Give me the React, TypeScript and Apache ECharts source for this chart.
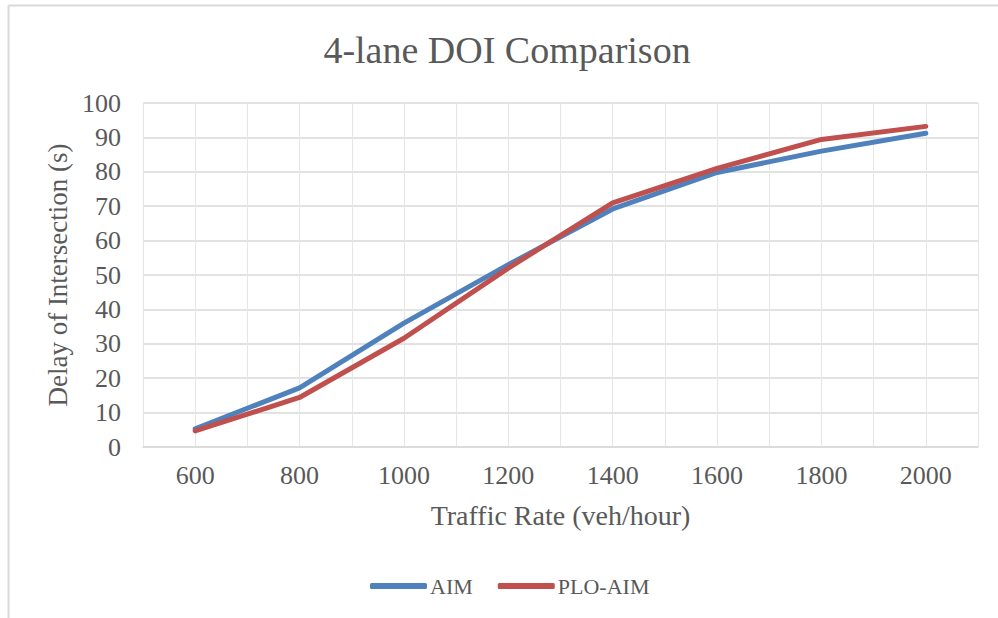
import React, { useEffect, useRef } from "react";
import * as echarts from "echarts";

const trafficRates = [600, 800, 1000, 1200, 1400, 1600, 1800, 2000];
const aimDelay = [5.3, 17.2, 36, 53, 69.2, 79.8, 86, 91.2];
const ploAimDelay = [4.7, 14.4, 31.6, 52, 71, 81, 89.4, 93.2];
const seriesNames = ["AIM", "PLO-AIM"];
const seriesColors = ["#4F81BD", "#C0504D"];

const FONT = "'Liberation Serif', 'DejaVu Serif', serif";
const TEXT = "#595959";

export default function App() {
  const ref = useRef<HTMLDivElement>(null);
  useEffect(() => {
    if (!ref.current) return;
    const chart = echarts.init(ref.current, undefined, { renderer: "svg" });
    const toPairs = (vals: number[]) => trafficRates.map((x, i) => [x, vals[i]]);
    chart.setOption({
      animation: false,
      backgroundColor: "#ffffff",
      graphic: [
        { type: "line", shape: { x1: 8.5, y1: 5.5, x2: 998, y2: 5.5 }, style: { stroke: "#d9d9d9", lineWidth: 2 } },
        { type: "line", shape: { x1: 8.5, y1: 5.5, x2: 8.5, y2: 618 }, style: { stroke: "#d9d9d9", lineWidth: 2 } },
        {
          type: "text",
          x: 507,
          y: 50,
          style: {
            text: "4-lane DOI Comparison",
            fontFamily: FONT,
            fontSize: 38,
            fill: TEXT,
            textAlign: "center",
            textVerticalAlign: "middle",
          },
        },
      ],
      legend: {
        top: 570,
        left: 365,
        itemWidth: 57,
        itemHeight: 6,
        itemGap: 25,
        icon: "roundRect",
        textStyle: { fontFamily: FONT, fontSize: 22, color: TEXT, padding: [0, 0, 0, -2] },
        data: seriesNames,
      },
      grid: { left: 143, right: 20, top: 103, bottom: 171 },
      xAxis: {
        type: "value",
        min: 500,
        max: 2100,
        interval: 100,
        name: "Traffic Rate (veh/hour)",
        nameLocation: "middle",
        nameGap: 54,
        nameTextStyle: { fontFamily: FONT, fontSize: 28, color: TEXT },
        axisLine: { show: true, lineStyle: { color: "#d9d9d9", width: 1.5 } },
        axisTick: { show: false },
        splitLine: { show: true, lineStyle: { color: "#e6e6e6", width: 1 } },
        axisLabel: {
          fontFamily: FONT,
          fontSize: 26,
          color: TEXT,
          margin: 15,
          showMinLabel: true,
          showMaxLabel: true,
          formatter: (v: number) => (v % 200 === 0 && v >= 600 && v <= 2000 ? String(v) : ""),
        },
      },
      yAxis: {
        type: "value",
        min: 0,
        max: 100,
        interval: 10,
        name: "Delay of Intersection (s)",
        nameLocation: "middle",
        nameGap: 72,
        nameTextStyle: { fontFamily: FONT, fontSize: 27, color: TEXT },
        axisLine: { show: false },
        axisTick: { show: false },
        splitLine: { show: true, lineStyle: { color: "#d9d9d9", width: 1.5 } },
        axisLabel: { fontFamily: FONT, fontSize: 26, color: TEXT, margin: 22 },
      },
      series: [
        {
          name: seriesNames[0],
          type: "line",
          data: toPairs(aimDelay),
          symbol: "none",
          color: seriesColors[0],
          lineStyle: { width: 5, color: seriesColors[0], cap: "round", join: "round" },
        },
        {
          name: seriesNames[1],
          type: "line",
          data: toPairs(ploAimDelay),
          symbol: "none",
          color: seriesColors[1],
          lineStyle: { width: 5, color: seriesColors[1], cap: "round", join: "round" },
        },
      ],
    });
    return () => chart.dispose();
  }, []);
  return (
    <div
      ref={ref}
      style={{ position: "absolute", left: 0, top: 0, width: 998, height: 618 }}
    />
  );
}
